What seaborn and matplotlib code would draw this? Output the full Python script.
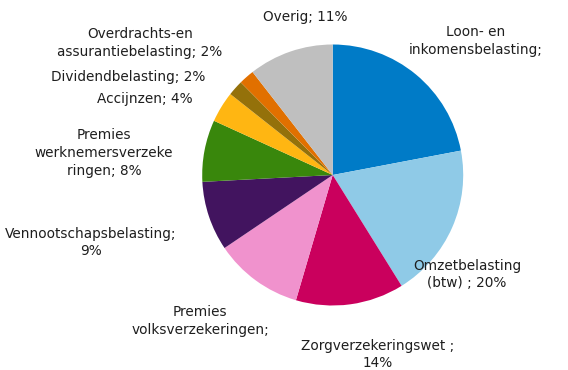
import matplotlib
matplotlib.use("Agg")
import matplotlib.pyplot as plt
import seaborn as sns

# Belastingopbrengsten naar soort, aandeel in procenten
categories = [
    "Loon- en inkomensbelasting",
    "Omzetbelasting (btw)",
    "Zorgverzekeringswet",
    "Premies volksverzekeringen",
    "Vennootschapsbelasting",
    "Premies werknemersverzekeringen",
    "Accijnzen",
    "Dividendbelasting",
    "Overdrachts-en assurantiebelasting",
    "Overig",
]
shares = [23, 20, 14, 11.5, 9, 8, 4, 2, 2, 11]
labels = [
    "Loon- en\ninkomensbelasting;",
    "Omzetbelasting\n(btw) ; 20%",
    "Zorgverzekeringswet ;\n14%",
    "Premies\nvolksverzekeringen;",
    "Vennootschapsbelasting;\n9%",
    "Premies\nwerknemersverzeke\nringen; 8%",
    "Accijnzen; 4%",
    "Dividendbelasting; 2%",
    "Overdrachts-en\nassurantiebelasting; 2%",
    "Overig; 11%",
]
colors = [
    "#007BC7", "#8FCAE7", "#CA005D", "#F092CD", "#42145F",
    "#39870C", "#FFB612", "#94710A", "#E17000", "#BFBFBF",
]

# label anchor points in pixels (x, y from top-left)
label_px = [
    (476, 41), (467, 274.5), (378, 354.5), (200, 321), (91, 242.5),
    (104, 153), (145, 99), (128, 77), (140, 43), (305, 16.5),
]

sns.set_theme(style="white")
plt.rcParams["font.family"] = ["DejaVu Sans"]

W, H = 568, 370
fig = plt.figure(figsize=(W / 100, H / 100), dpi=100)
ax = fig.add_axes([0, 0, 1, 1])

cx, cy, r = 332.7, 175, 130.5
ax.pie(shares, colors=colors, startangle=90, counterclock=False,
       radius=1, center=(0, 0), wedgeprops=dict(linewidth=0))
ax.set_xlim(-cx / r, (W - cx) / r)
ax.set_ylim(-(H - cy) / r, cy / r)
ax.set_aspect("equal")
ax.axis("off")

for text, (px, py) in zip(labels, label_px):
    fig.text(px / W, 1 - py / H, text, ha="center", va="center",
             fontsize=9.8, color="#1e1e1e", linespacing=1.36)

fig.savefig("out.png", dpi=100, facecolor="white")
